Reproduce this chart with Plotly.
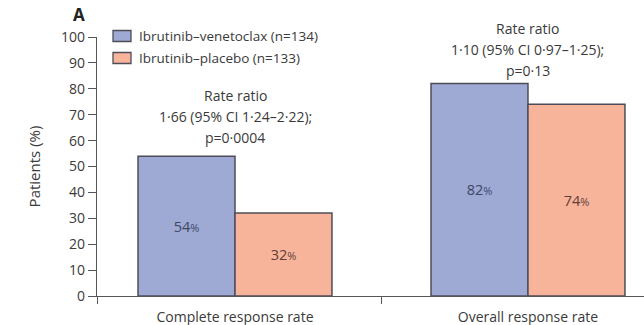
import plotly.graph_objects as go

# Response rates by endpoint and treatment arm
categories = ["Complete response rate", "Overall response rate"]
arm_names = ["Ibrutinib–venetoclax (n=134)", "Ibrutinib–placebo (n=133)"]
venetoclax_pct = [54, 82]
placebo_pct = [32, 74]
ratio_notes = [
    ["Rate ratio", "1·66 (95% CI 1·24–2·22);", "p=0·0004"],
    ["Rate ratio", "1·10 (95% CI 0·97–1·25);", "p=0·13"],
]
y_ticks = list(range(0, 101, 10))

FONT = "Open Sans"
TEXT = "#3a3a3a"
AXIS = "#555555"
BLUE = "#9ea9d4"
ORANGE = "#f8b49a"
EDGE = "#4d4d5a"

W, H = 644, 325
ML, MR, MT, MB = 97, 0, 37, 29
PW, PH = W - ML - MR, H - MT - MB


def px_x(p):
    return (p - ML) / PW


def px_y(p):
    return 1 - (p - MT) / PH


def pct_label(v):
    return f"{v}<span style='font-size:11px'>%</span>"


xpos = list(range(len(categories)))

fig = go.Figure()
for vals, color, name, tcol in [(venetoclax_pct, BLUE, arm_names[0], "#3d4766"),
                                (placebo_pct, ORANGE, arm_names[1], "#5e4038")]:
    fig.add_trace(go.Bar(
        x=xpos, y=vals, name=name,
        marker=dict(color=color, line=dict(color=EDGE, width=1.5)),
        text=[pct_label(v) for v in vals],
        textposition="inside", insidetextanchor="middle",
        textfont=dict(family=FONT, size=14.5, color=tcol),
        showlegend=False,
    ))

# Rate ratio notes above each pair of bars (pixel rows of each text line)
note_rows = [[95, 116.5, 137.5], [28, 49.5, 70]]
for i, lines in enumerate(ratio_notes):
    for line, row in zip(lines, note_rows[i]):
        fig.add_annotation(x=xpos[i], y=px_y(row), xref="x", yref="paper", text=line,
                           showarrow=False, xanchor="center", yanchor="middle",
                           font=dict(family=FONT, size=14, color=TEXT))

# Legend drawn as boxes with labels
legend_rows = [(30.5, 41.5, BLUE), (52.5, 63.5, ORANGE)]
for (top, bot, color), name in zip(legend_rows, arm_names):
    fig.add_shape(type="rect", xref="paper", yref="paper",
                  x0=px_x(113), x1=px_x(131), y0=px_y(bot), y1=px_y(top),
                  fillcolor=color, line=dict(color=EDGE, width=1.3))
    fig.add_annotation(x=px_x(137), y=px_y((top + bot) / 2), xref="paper", yref="paper",
                       text=name, showarrow=False, xanchor="left", yanchor="middle",
                       font=dict(family=FONT, size=13.5, color=TEXT))

# Panel letter
fig.add_annotation(x=px_x(71), y=px_y(15), xref="paper", yref="paper", text="<b>A</b>",
                   showarrow=False, xanchor="left", yanchor="middle",
                   font=dict(family=FONT, size=17, color="#222222"))

fig.update_layout(
    width=W, height=H,
    margin=dict(l=ML, r=MR, t=MT, b=MB),
    paper_bgcolor="white", plot_bgcolor="white",
    barmode="group", bargap=0.338, bargroupgap=0,
    font=dict(family=FONT, color=TEXT),
)
fig.update_xaxes(
    range=[-0.471, 1.396],
    tickvals=xpos, ticktext=categories,
    ticks="outside", ticklen=8, tickcolor="rgba(0,0,0,0)",
    tickfont=dict(family=FONT, size=14, color=TEXT),
    showline=True, linecolor=AXIS, linewidth=1.3,
    showgrid=False, zeroline=False,
    minor=dict(tickvals=[-0.471, 0.5], ticks="outside", ticklen=7,
               tickcolor=AXIS, tickwidth=1.3, showgrid=False),
)
fig.update_yaxes(
    range=[0, 100], tickvals=y_ticks,
    ticks="outside", ticklen=8, tickcolor=AXIS, tickwidth=1.3,
    tickfont=dict(family=FONT, size=14, color=TEXT),
    showline=True, linecolor=AXIS, linewidth=1.3,
    showgrid=False, zeroline=False,
    title=dict(text="Patients (%)", standoff=16,
               font=dict(family=FONT, size=15, color=TEXT)),
)

fig.write_html("out.html")
